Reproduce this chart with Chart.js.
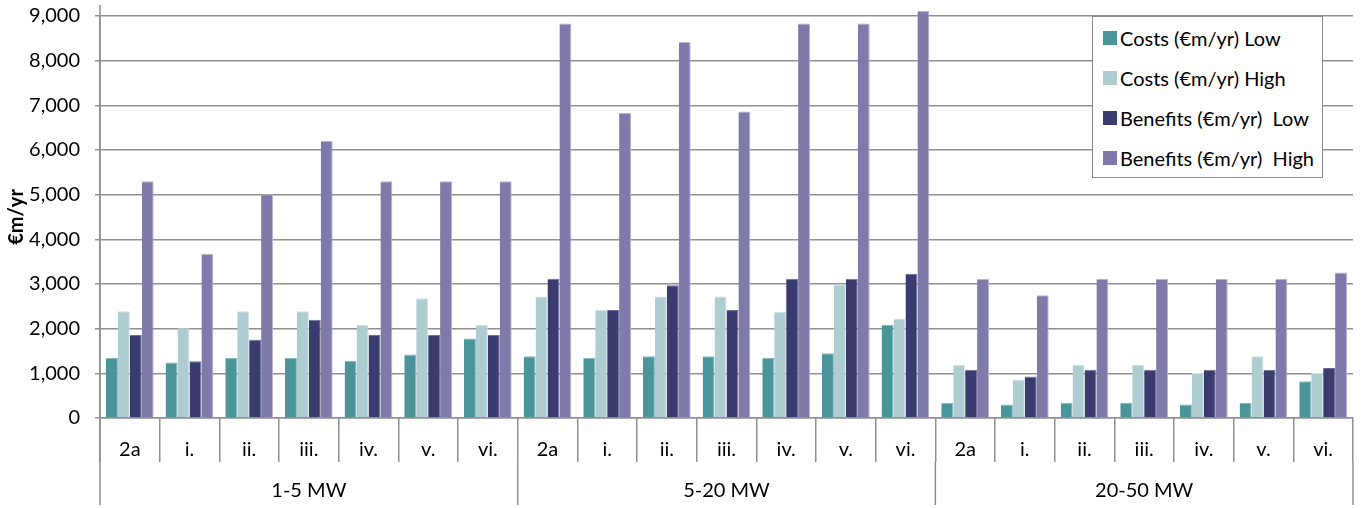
<!DOCTYPE html>
<html>
<head>
<meta charset="utf-8">
<script src="https://cdn.jsdelivr.net/npm/chart.js@4/dist/chart.umd.min.js"></script>
<style>
  html, body { margin: 0; padding: 0; background: #fff; }
  #wrap { position: relative; width: 1364px; height: 508px; }
  #legend {
    position: absolute; left: 1092px; top: 16px; width: 229px; height: 160px;
    border: 1px solid #8a8a8a; background: #fff; box-sizing: content-box;
    font-family: Lato, "Open Sans", sans-serif; font-size: 20px; color: #000;
  }
  #legend .row { position: absolute; left: 10px; height: 40px; display: flex; align-items: center; white-space: pre; }
  #legend .sw { width: 14px; height: 14px; margin-right: 3px; flex: none; }
</style>
</head>
<body>
<div id="wrap">
  <canvas id="chart" width="1364" height="508"></canvas>
  <div id="legend"></div>
</div>
<script>
// Scenario labels inside each capacity band, and the capacity bands themselves
const subLabels = ['2a', 'i.', 'ii.', 'iii.', 'iv.', 'v.', 'vi.'];
const groups = ['1-5 MW', '5-20 MW', '20-50 MW'];

// Values in €m/yr, ordered 1-5 MW, then 5-20 MW, then 20-50 MW
const costsLow = [
  1350, 1240, 1350, 1350, 1280, 1420, 1780,
  1380, 1350, 1380, 1380, 1350, 1450, 2090,
  340, 300, 340, 340, 300, 340, 820
];
const costsHigh = [
  2390, 2010, 2390, 2390, 2090, 2680, 2090,
  2720, 2420, 2720, 2720, 2380, 2990, 2230,
  1190, 860, 1190, 1190, 1010, 1380, 1010
];
const benefitsLow = [
  1860, 1270, 1750, 2200, 1860, 1860, 1860,
  3120, 2420, 2970, 2420, 3120, 3120, 3230,
  1080, 930, 1080, 1080, 1080, 1080, 1120
];
const benefitsHigh = [
  5300, 3680, 5010, 6200, 5300, 5300, 5300,
  8830, 6830, 8420, 6860, 8830, 8830, 9120,
  3120, 2750, 3120, 3120, 3120, 3120, 3260
];

const seriesNames = ['Costs (€m/yr) Low', 'Costs (€m/yr) High', 'Benefits (€m/yr)  Low', 'Benefits (€m/yr)  High'];
const seriesColors = ['#4a9599', '#aecdd1', '#3a3c70', '#7e7aa9'];
const seriesEdges = ['#7fb6b9', '#cfe2e4', '#6a6c98', '#b7b4d6'];

const categories = groups.flatMap(() => subLabels);
const AXIS_GREY = '#8f8f8f';
const SUB_TICK = 44;     // tick length of the scenario row
const GROUP_ROW = 87;    // bottom of the capacity-band row, below the x axis

// Second category level: band separators and band names under the scenario row
const groupAxis = {
  id: 'groupAxis',
  afterDraw(chart) {
    const { ctx, chartArea, scales: { x } } = chart;
    const per = subLabels.length;
    const step = x.getPixelForValue(1) - x.getPixelForValue(0);
    const top = chartArea.bottom + SUB_TICK;
    const bottom = chartArea.bottom + GROUP_ROW;
    ctx.save();
    ctx.strokeStyle = AXIS_GREY;
    ctx.lineWidth = 1.5;
    ctx.fillStyle = '#000';
    ctx.font = '20px Lato, "Open Sans", sans-serif';
    ctx.textAlign = 'center';
    ctx.textBaseline = 'middle';
    // left axis runs the full height, a little above the top gridline
    ctx.beginPath();
    ctx.moveTo(chartArea.left, chartArea.top - 11);
    ctx.lineTo(chartArea.left, bottom);
    ctx.stroke();
    groups.forEach((g, gi) => {
      const left = x.getPixelForValue(gi * per) - step / 2;
      const right = x.getPixelForValue(gi * per + per - 1) + step / 2;
      ctx.beginPath();
      ctx.moveTo(right, top);
      ctx.lineTo(right, bottom);
      ctx.stroke();
      ctx.fillText(g, (left + right) / 2, chartArea.bottom + 73);
    });
    ctx.restore();
  }
};

Chart.defaults.font.family = 'Lato, "Open Sans", sans-serif';
Chart.defaults.font.size = 20;
Chart.defaults.color = '#000';

const datasets = [costsLow, costsHigh, benefitsLow, benefitsHigh].map((d, i) => ({
  label: seriesNames[i],
  data: d,
  backgroundColor: seriesColors[i],
  borderColor: seriesEdges[i],
  borderWidth: { top: 1, right: 1, left: 0, bottom: 0 },
  borderSkipped: 'bottom',
  categoryPercentage: 0.8,
  barPercentage: 1.0,
  clip: false
}));

new Chart(document.getElementById('chart'), {
  type: 'bar',
  data: { labels: categories, datasets },
  options: {
    responsive: false,
    animation: false,
    layout: { padding: { top: 16, right: 11, left: 0, bottom: 0 } },
    plugins: { legend: { display: false }, tooltip: { enabled: false } },
    scales: {
      x: {
        afterFit(scale) { scale.height = 90; },
        grid: { offset: true, drawOnChartArea: false, drawTicks: true, tickLength: SUB_TICK, color: AXIS_GREY, lineWidth: 1.5 },
        border: { color: AXIS_GREY, width: 1.5 },
        ticks: { padding: -24, maxRotation: 0, autoSkip: false, font: { size: 20 } }
      },
      y: {
        min: 0, max: 9000,
        afterFit(scale) {
          scale.width = 100;
          // the outer layout padding already leaves room for the top label
          scale.paddingTop = 0;
          scale.paddingBottom = 0;
        },
        grid: { color: AXIS_GREY, lineWidth: 1.5, tickLength: 5 },
        border: { color: AXIS_GREY, width: 1.5 },
        ticks: { stepSize: 1000, padding: 15, font: { size: 20 } },
        title: { display: true, text: '€m/yr', font: { size: 20, weight: 'bold' }, padding: { top: 5, bottom: 0 } }
      }
    }
  },
  plugins: [groupAxis]
});

// Legend box in the upper right of the plot
const legend = document.getElementById('legend');
seriesNames.forEach((name, i) => {
  const row = document.createElement('div');
  row.className = 'row';
  row.style.top = (1 + i * 40) + 'px';
  const sw = document.createElement('span');
  sw.className = 'sw';
  sw.style.background = seriesColors[i];
  const txt = document.createElement('span');
  txt.textContent = name;
  row.appendChild(sw);
  row.appendChild(txt);
  legend.appendChild(row);
});
</script>
</body>
</html>
